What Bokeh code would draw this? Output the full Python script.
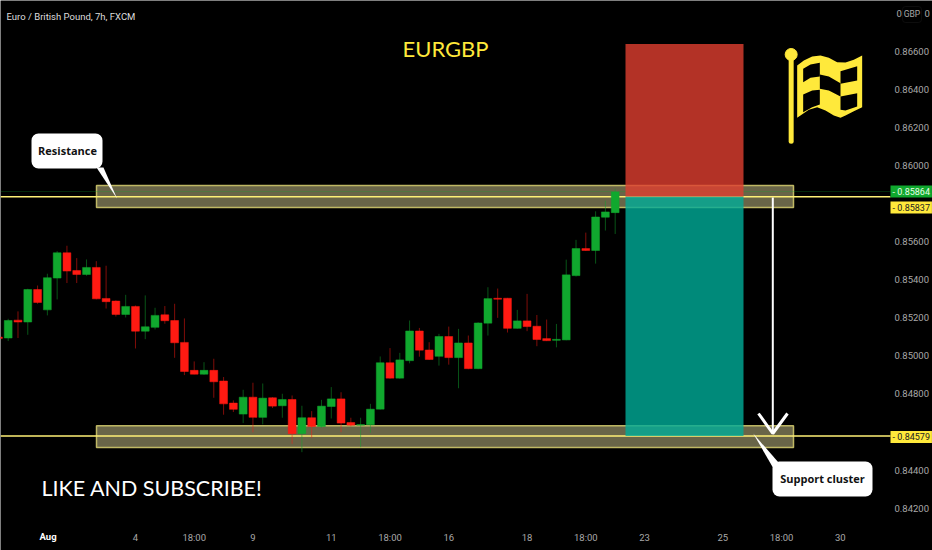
import numpy as np
from bokeh.plotting import figure
from bokeh.models import ColumnDataSource, Range1d, LinearAxis, FixedTicker, Label, BoxAnnotation
from bokeh.core.properties import value
from bokeh.embed import file_html
from bokeh.resources import INLINE

bar_index = list(range(-1, 63))
open_ = [0.85099,0.85094,0.85188,0.85178,0.85349,0.85242,0.85409,0.85542,0.85449,0.85428,0.85465,0.85302,0.85288,0.85218,0.85260,0.85130,0.85150,0.85216,0.85186,0.85071,0.84924,0.84904,0.84924,0.84868,0.84752,0.84694,0.84783,0.84677,0.84780,0.84738,0.84771,0.84591,
         0.84675,0.84629,0.84734,0.84774,0.84650,0.84636,0.84638,0.84720,0.84964,0.84883,0.84975,0.85131,0.85031,0.84998,0.85102,0.84991,0.85068,0.84933,0.85172,0.85303,0.85303,0.85145,0.85184,0.85156,0.85091,0.85082,0.85084,0.85422,0.85564,0.85554,0.85729,0.85753]
high = [0.85105,0.85195,0.85234,0.85353,0.85370,0.85432,0.85551,0.85579,0.85514,0.85507,0.85498,0.85474,0.85292,0.85321,0.85265,0.85318,0.85253,0.85262,0.85274,0.85197,0.84971,0.84967,0.84985,0.84889,0.84766,0.84822,0.84859,0.84855,0.84783,0.84801,0.84792,0.84738,
        0.84710,0.84769,0.84836,0.84809,0.84675,0.84675,0.84748,0.84997,0.85041,0.85016,0.85186,0.85147,0.85072,0.85116,0.85154,0.85142,0.85107,0.85177,0.85361,0.85354,0.85305,0.85242,0.85326,0.85215,0.85191,0.85168,0.85506,0.85610,0.85648,0.85760,0.85816,0.85878]
low = [0.85090,0.85078,0.85094,0.85111,0.85274,0.85213,0.85297,0.85383,0.85383,0.85421,0.85297,0.85249,0.85207,0.85202,0.85039,0.85088,0.85139,0.85169,0.84990,0.84899,0.84903,0.84901,0.84780,0.84691,0.84705,0.84647,0.84598,0.84640,0.84726,0.84675,0.84538,0.84494,
       0.84569,0.84622,0.84671,0.84599,0.84629,0.84520,0.84596,0.84718,0.84880,0.84880,0.84961,0.84996,0.84979,0.84949,0.84954,0.84830,0.84930,0.84930,0.85107,0.85200,0.85123,0.85143,0.85130,0.85051,0.85078,0.85045,0.85082,0.85417,0.85552,0.85485,0.85659,0.85641]
close = [0.85091,0.85186,0.85178,0.85349,0.85281,0.85411,0.85542,0.85446,0.85428,0.85465,0.85300,0.85285,0.85218,0.85260,0.85130,0.85153,0.85213,0.85185,0.85069,0.84918,0.84904,0.84924,0.84864,0.84748,0.84719,0.84783,0.84677,0.84778,0.84736,0.84771,0.84591,0.84675,
         0.84629,0.84736,0.84774,0.84647,0.84636,0.84639,0.84720,0.84964,0.84883,0.84979,0.85131,0.85030,0.84981,0.85102,0.84991,0.85068,0.84933,0.85173,0.85301,0.85298,0.85145,0.85184,0.85154,0.85086,0.85080,0.85087,0.85426,0.85564,0.85554,0.85730,0.85757,0.85862]

price_ticks = [0.866,0.864,0.862,0.860,0.856,0.854,0.852,0.850,0.848,0.844,0.842]
time_ticks = [13,19,25,33,39,45,53,59,65,73,79,85]
time_labels = ["4","18:00","9","11","18:00","16","18","18:00","23","25","18:00","30"]

last_price = 0.85864
resistance_line = 0.85837
support_line = 0.84579
resistance_zone = (0.85896, 0.85780)
support_zone = (0.84633, 0.84519)
stop_level = 0.86640

# mapping of the picture's frame onto the scales
BAR_X0, BAR_DX = 7.7, 9.79
LINE_END = 890
W, H = 932, 550
def ix(x): return (x - BAR_X0) / BAR_DX
def pr(y): return 0.86868 - 5.256e-5 * y

p = figure(width=W, height=H, output_backend="svg", toolbar_location=None,
           x_range=Range1d(ix(0), ix(W)), y_range=Range1d(pr(H), pr(0)),
           background_fill_color="#000000", border_fill_color="#000000",
           outline_line_color=None, outline_line_alpha=0, min_border_left=0, min_border_top=0,
           min_border_right=0, min_border_bottom=0,
           y_axis_location=None, x_axis_location=None)
p.grid.visible = False

FONT_AX = "Roboto"
SIZE_AX = "9.5px"
raxis = LinearAxis(ticker=FixedTicker(ticks=price_ticks))
raxis.major_label_overrides = {t: f"{t:.5f}" for t in price_ticks}
baxis = LinearAxis(ticker=FixedTicker(ticks=time_ticks))
baxis.major_label_overrides = dict(zip(time_ticks, time_labels))
for ax in (raxis, baxis):
    ax.axis_line_color = None
    ax.major_tick_line_color = None
    ax.minor_tick_line_color = None
    ax.major_tick_out = 0
    ax.major_tick_in = 0
    ax.major_label_text_color = "#a8a8a8"
    ax.major_label_text_font = FONT_AX
    ax.major_label_text_font_size = SIZE_AX
raxis.major_label_standoff = -38
baxis.major_label_standoff = -19
p.add_layout(raxis, "right")
p.add_layout(baxis, "below")

# zones
zl, zr = ix(96), ix(793)
for top, bot in (resistance_zone, support_zone):
    p.quad(left=zl, right=zr, top=top, bottom=bot, fill_color="#e8dfa0", fill_alpha=0.45,
           line_color="#d8d070", line_width=1.5, line_alpha=0.85)

# levels
p.segment(x0=[ix(0)], x1=[ix(LINE_END)], y0=[last_price], y1=[last_price], line_color="#10a82e", line_alpha=0.25, line_width=1)
p.segment(x0=[ix(0), ix(0)], x1=[ix(LINE_END), ix(LINE_END)], y0=[resistance_line, support_line],
          y1=[resistance_line, support_line], line_color="#fff176", line_width=1.5)

# position
pl, pright = ix(625), ix(743)
p.quad(left=pl, right=pright, top=stop_level, bottom=resistance_line, fill_color="#e03e30", fill_alpha=0.8, line_color=None)
p.quad(left=pl, right=pright, top=resistance_line, bottom=support_line, fill_color="#00ac98", fill_alpha=0.8, line_color=None)

# candles
colors = ["#10a82e" if c >= o else "#ff1a12" for o, c in zip(open_, close)]
src = ColumnDataSource(dict(x=bar_index, o=open_, h=high, l=low, c=close, color=colors,
                            top=[max(a, b) for a, b in zip(open_, close)],
                            bot=[min(a, b) for a, b in zip(open_, close)]))
p.segment(x0="x", x1="x", y0="l", y1="h", color="color", line_alpha=0.5, line_width=1, source=src)
p.vbar(x="x", width=0.8, top="top", bottom="bot", fill_color="color", line_color="color", line_width=0.5, source=src)

# arrow
p.line([ix(772.3), ix(772.3)], [pr(197), pr(433)], line_color="#ffffff", line_width=2)
p.line([ix(758), ix(772.3), ix(787)], [pr(413), pr(433), pr(413)], line_color="#ffffff", line_width=3)

# callouts
for (l, r, t, b) in ((31, 102, 133, 168), (772, 872, 461, 496)):
    p.add_layout(BoxAnnotation(left=ix(l), right=ix(r), top=pr(t), bottom=pr(b), fill_color="#ffffff", fill_alpha=1,
                               line_color=None, border_radius=7, level="glyph"))
p.patch([ix(96), ix(116.5), ix(103)], [pr(167), pr(198), pr(167)], fill_color="#ffffff", line_color=None, level="overlay")
p.patch([ix(773), ix(752.7), ix(778)], [pr(468), pr(433), pr(462)], fill_color="#ffffff", line_color=None, level="overlay")
for tx, x, y in (("Resistance", 67, 150), ("Support cluster", 822, 478)):
    p.add_layout(Label(x=ix(x), y=pr(y), text=tx, text_font="Open Sans", text_font_style="bold", text_font_size="11px",
                       text_color="#111111", text_align="center", text_baseline="middle"))

# currency box
p.add_layout(BoxAnnotation(left=ix(902), right=ix(921), top=pr(6), bottom=pr(22), fill_color="#000000", fill_alpha=1,
                           line_color="#2a2a2a", line_width=1, border_radius=3, level="glyph"))

# flag
def fx(z): return [ix(730 + a / 3) for a in z]
def fy(z): return [pr(a / 3) for a in z]
p.line(fx([182, 182]), fy([160, 422]), line_color="#ffe93b", line_width=5, line_cap="round")
p.scatter(fx([182]), fy([162]), size=12, color="#ffe93b")
fl_x = [200,220,245,270,295,320,345,370,395,395,370,345,330,310,285,260,235,200]
fl_y = [195,180,168,165,172,185,186,178,165,320,332,345,352,345,330,320,328,352]
p.patch(fx(fl_x), fy(fl_y), fill_color="#ffe93b", line_color=None)
holes = [([218,240,268,268,240,218], [205,192,187,228,232,245]),
         ([268,295,330,330,295,268], [222,228,248,288,270,265]),
         ([330,380,380,330], [212,197,240,250]),
         ([218,245,268,268,245,218], [282,270,268,312,320,335]),
         ([330,380,380,345,330], [288,278,318,330,328])]
p.patches([fx(h[0]) for h in holes], [fy(h[1]) for h in holes], fill_color="#000000", line_color=None)

# texts
def label(x, y, text, **kw):
    kw.setdefault("text_baseline", "middle")
    l = Label(x=x, y=H - y, x_units="screen", y_units="screen", text=text, **kw)
    p.add_layout(l)
    return l

label(6, 16, "Euro / British Pound, 7h, FXCM", text_font="Roboto", text_font_size="9.5px", text_color="#dddddd")
label(445, 48, "EURGBP", text_font="Lato", text_font_size="22px", text_color="#ffe93b", text_align="center")
label(41, 487, "LIKE AND SUBSCRIBE!", text_font="Lato", text_font_size="21.5px", text_color="#ffffff")
label(39, 536, "Aug", text_font=FONT_AX, text_font_size=SIZE_AX, text_font_style="bold", text_color="#ffffff")
label(896, 13, "0", text_font=FONT_AX, text_font_size=SIZE_AX, text_color="#a8a8a8")
label(911.5, 13, "GBP", text_font=FONT_AX, text_font_size="8.5px", text_color="#a8a8a8", text_align="center")
label(924, 13, "0", text_font=FONT_AX, text_font_size=SIZE_AX, text_color="#a8a8a8")
for y, txt, bg, fg in ((191, f"- {last_price:.5f}", "#10a82e", "#e8ffe8"),
                       (207, f"- {resistance_line:.5f}", "#ffe93b", "#222222"),
                       (436.5, f"- {support_line:.5f}", "#ffe93b", "#222222")):
    label(890, y, txt, text_font=FONT_AX, text_font_size="9px", text_color=fg,
          background_fill_color=bg, padding=(2, 1))

open("out.html", "w").write(file_html(p, INLINE))
